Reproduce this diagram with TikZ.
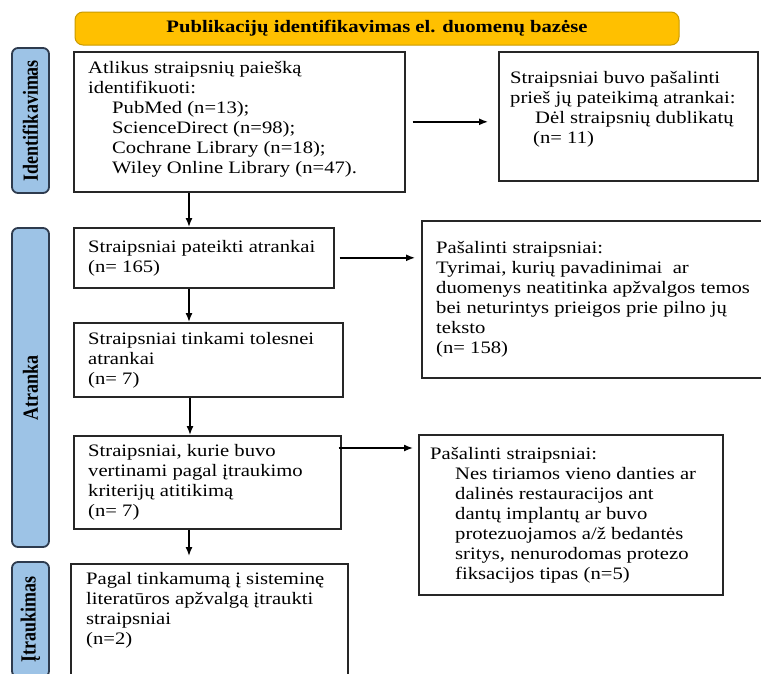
\documentclass[tikz,border=0pt]{standalone}
\usepackage{fontspec}
\setmainfont{Liberation Serif}[FakeStretch=1.18]
\newfontfamily\sidefont{Liberation Serif}
\usetikzlibrary{arrows.meta,calc}
\definecolor{hdrfill}{HTML}{FFC000}
\definecolor{hdrline}{HTML}{C99A00}
\definecolor{sidefill}{HTML}{9DC3E6}
\definecolor{sideline}{HTML}{2E3B4E}
\newcommand{\sidetext}[1]{\scalebox{1}[1.2]{#1}}
\begin{document}
\begin{tikzpicture}[x=1pt,y=-1pt,
  box/.style={draw=black!85, line width=1.6pt, fill=white, anchor=north west, inner sep=0pt},
  txt/.style={inner sep=0pt, align=left, font=\fontsize{17.5pt}{20pt}\selectfont},
  side/.style={draw=sideline, line width=1.8pt, fill=sidefill, rounded corners=6pt,
    rotate=90, minimum height=37pt, inner sep=0pt,
    font=\sidefont\bfseries\fontsize{18pt}{20pt}\selectfont},
  arr/.style={-{Latex[length=9pt,width=7pt]}, line width=1.4pt, draw=black}]
\useasboundingbox (0,0) rectangle (761,673);
\fill[white] (0,0) rectangle (761,673);

% title bar
\node[draw=hdrline, line width=1pt, fill=hdrfill, rounded corners=8pt,
  minimum width=604pt, minimum height=33pt, inner sep=0pt,
  font=\bfseries\fontsize{17.5pt}{20pt}\selectfont] (hdr) at (377,28.5)
  {Publikacijų identifikavimas el. duomenų bazėse};

% stage labels
\node[side, minimum width=145pt] (s1) at (30.5,120.5) {\sidetext{Identifikavimas}};
\node[side, minimum width=319pt] (s2) at (30.5,387.5) {\sidetext{Atranka}};
\node[side, minimum width=115pt] (s3) at (30.5,619.5) {\sidetext{Įtraukimas}};

% main column
\node[box, minimum width=331pt, minimum height=140pt] (b1) at (73,51) {};
\node[txt, anchor=west] (b1t) at ($(b1.west)+(15,-3)$)
  {Atlikus straipsnių paiešką\\
   identifikuoti:\\
   \hspace*{24pt}PubMed (n=13);\\
   \hspace*{24pt}ScienceDirect (n=98);\\
   \hspace*{24pt}Cochrane Library (n=18);\\
   \hspace*{24pt}Wiley Online Library (n=47).};

\node[box, minimum width=260pt, minimum height=60pt] (b2) at (73,227) {};
\node[txt, anchor=west] (b2t) at ($(b2.west)+(15,0)$)
  {Straipsniai pateikti atrankai\\(n= 165)};

\node[box, minimum width=269pt, minimum height=74pt] (b3) at (73,322) {};
\node[txt, anchor=west] (b3t) at ($(b3.west)+(15,0)$)
  {Straipsniai tinkami tolesnei\\atrankai\\(n= 7)};

\node[box, minimum width=267pt, minimum height=93pt] (b4) at (73,435) {};
\node[txt, anchor=west] (b4t) at ($(b4.west)+(15,0)$)
  {Straipsniai, kurie buvo\\vertinami pagal įtraukimo\\kriterijų atitikimą\\(n= 7)};

\node[box, minimum width=277pt, minimum height=130pt] (b5) at (70,563) {};
\node[txt, anchor=north west] (b5t) at ($(b5.north west)+(16,9)$)
  {Pagal tinkamumą į sisteminę\\literatūros apžvalgą įtraukti\\straipsniai\\(n=2)};

% exclusion column
\node[box, minimum width=259pt, minimum height=129pt] (r1) at (498,51) {};
\node[txt, anchor=west] (r1t) at ($(r1.west)+(12,-7)$)
  {Straipsniai buvo pašalinti\\
   prieš jų pateikimą atrankai:\\
   \hspace*{25pt}Dėl straipsnių dublikatų\\
   \hspace*{23pt}(n= 11)};

\node[box, minimum width=342pt, minimum height=157pt] (r2) at (421,220) {};
\node[txt, anchor=west] (r2t) at ($(r2.west)+(15,0)$)
  {Pašalinti straipsniai:\\
   Tyrimai, kurių pavadinimai\ \ ar\\
   duomenys neatitinka apžvalgos temos\\
   bei neturintys prieigos prie pilno jų\\
   teksto\\
   (n= 158)};

\node[box, minimum width=304pt, minimum height=160pt] (r3) at (418,434) {};
\node[txt, anchor=west] (r3t) at ($(r3.west)+(12,0)$)
  {Pašalinti straipsniai:\\
   \hspace*{25pt}Nes tiriamos vieno danties ar\\
   \hspace*{25pt}dalinės restauracijos ant\\
   \hspace*{25pt}dantų implantų ar buvo\\
   \hspace*{25pt}protezuojamos a/ž bedantės\\
   \hspace*{25pt}sritys, nenurodomas protezo\\
   \hspace*{25pt}fiksacijos tipas (n=5)};

% connectors
\coordinate (spine) at (189,0);
\coordinate (spineb) at (190,0);
\draw[arr] (spine |- b1.south) -- (spine |- b2.north);
\draw[arr] (spine |- b2.south) -- (spine |- b3.north);
\draw[arr] (spineb |- b3.south) -- (spineb |- b4.north);
\draw[arr, shorten >=7pt] (spine |- b4.south) -- (spine |- b5.north);

\draw[arr, shorten <=7pt, shorten >=10pt] (b1.east) -- (b1.east -| r1.west);
\draw[arr, shorten <=5pt, shorten >=6pt] (b2.east) -- (b2.east -| r2.west);
\coordinate (b4out) at ($(b4.north east)+(-3,13)$);
\draw[arr, shorten >=5pt] (b4out) -- (b4out -| r3.west);
\end{tikzpicture}
\end{document}
